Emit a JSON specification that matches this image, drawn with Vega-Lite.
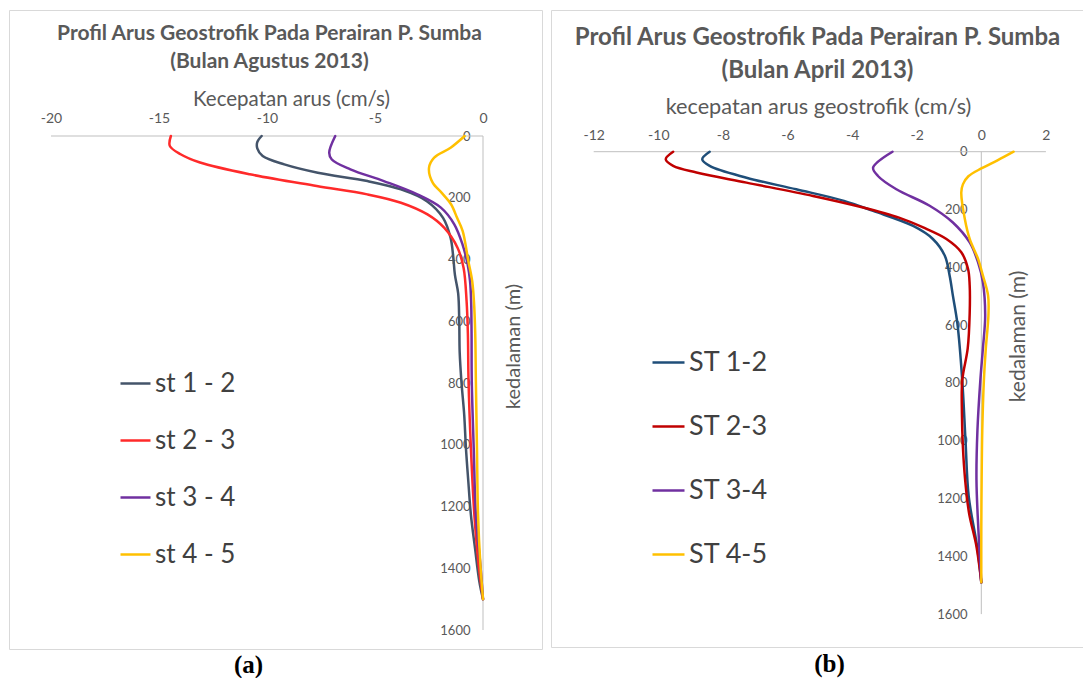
{
  "$schema": "https://vega.github.io/schema/vega-lite/v6.json",
  "background": "white",
  "padding": {"left": 8, "top": 9, "right": 0, "bottom": 0},
  "spacing": 7,
  "config": {
    "locale": {"number": {"decimal": ".", "thousands": "", "grouping": [3], "currency": ["", ""], "minus": "-"}},
    "view": {"stroke": "#D9D9D9", "strokeWidth": 1},
    "font": "Lato",
    "title": {"font": "Lato", "fontWeight": "bold", "color": "#595959", "anchor": "middle", "frame": "group"},
    "axis": {"labelFont": "Lato", "titleFont": "Lato", "labelColor": "#595959", "titleColor": "#595959", "titleFontWeight": "normal", "grid": false, "ticks": false, "domain": false, "labelOverlap": false, "labelFlush": false},
    "legend": {"labelFont": "Lato", "labelColor": "#404040", "padding": 0}
  },
  "datasets": {
    "agustus": [
      {"stasiun": "st 1 - 2", "kedalaman": 0, "kecepatan": -10.25},
      {"stasiun": "st 1 - 2", "kedalaman": 20, "kecepatan": -10.45},
      {"stasiun": "st 1 - 2", "kedalaman": 40, "kecepatan": -10.45},
      {"stasiun": "st 1 - 2", "kedalaman": 65, "kecepatan": -10.2},
      {"stasiun": "st 1 - 2", "kedalaman": 92, "kecepatan": -9.2},
      {"stasiun": "st 1 - 2", "kedalaman": 119, "kecepatan": -7.65},
      {"stasiun": "st 1 - 2", "kedalaman": 146, "kecepatan": -5.35},
      {"stasiun": "st 1 - 2", "kedalaman": 173, "kecepatan": -3.8},
      {"stasiun": "st 1 - 2", "kedalaman": 211, "kecepatan": -2.6},
      {"stasiun": "st 1 - 2", "kedalaman": 265, "kecepatan": -1.85},
      {"stasiun": "st 1 - 2", "kedalaman": 330, "kecepatan": -1.5},
      {"stasiun": "st 1 - 2", "kedalaman": 390, "kecepatan": -1.38},
      {"stasiun": "st 1 - 2", "kedalaman": 450, "kecepatan": -1.3},
      {"stasiun": "st 1 - 2", "kedalaman": 510, "kecepatan": -1.15},
      {"stasiun": "st 1 - 2", "kedalaman": 600, "kecepatan": -1.1},
      {"stasiun": "st 1 - 2", "kedalaman": 700, "kecepatan": -1.08},
      {"stasiun": "st 1 - 2", "kedalaman": 795, "kecepatan": -1.0},
      {"stasiun": "st 1 - 2", "kedalaman": 903, "kecepatan": -0.87},
      {"stasiun": "st 1 - 2", "kedalaman": 1011, "kecepatan": -0.79},
      {"stasiun": "st 1 - 2", "kedalaman": 1119, "kecepatan": -0.68},
      {"stasiun": "st 1 - 2", "kedalaman": 1227, "kecepatan": -0.56},
      {"stasiun": "st 1 - 2", "kedalaman": 1335, "kecepatan": -0.37},
      {"stasiun": "st 1 - 2", "kedalaman": 1443, "kecepatan": -0.17},
      {"stasiun": "st 1 - 2", "kedalaman": 1500, "kecepatan": 0},
      {"stasiun": "st 2 - 3", "kedalaman": 0, "kecepatan": -14.45},
      {"stasiun": "st 2 - 3", "kedalaman": 32, "kecepatan": -14.5},
      {"stasiun": "st 2 - 3", "kedalaman": 59, "kecepatan": -14.0},
      {"stasiun": "st 2 - 3", "kedalaman": 86, "kecepatan": -13.1},
      {"stasiun": "st 2 - 3", "kedalaman": 124, "kecepatan": -10.8},
      {"stasiun": "st 2 - 3", "kedalaman": 162, "kecepatan": -7.7},
      {"stasiun": "st 2 - 3", "kedalaman": 189, "kecepatan": -5.36},
      {"stasiun": "st 2 - 3", "kedalaman": 216, "kecepatan": -3.8},
      {"stasiun": "st 2 - 3", "kedalaman": 254, "kecepatan": -2.57},
      {"stasiun": "st 2 - 3", "kedalaman": 297, "kecepatan": -1.8},
      {"stasiun": "st 2 - 3", "kedalaman": 362, "kecepatan": -1.18},
      {"stasiun": "st 2 - 3", "kedalaman": 427, "kecepatan": -0.9},
      {"stasiun": "st 2 - 3", "kedalaman": 535, "kecepatan": -0.76},
      {"stasiun": "st 2 - 3", "kedalaman": 640, "kecepatan": -0.7},
      {"stasiun": "st 2 - 3", "kedalaman": 795, "kecepatan": -0.67},
      {"stasiun": "st 2 - 3", "kedalaman": 1011, "kecepatan": -0.56},
      {"stasiun": "st 2 - 3", "kedalaman": 1227, "kecepatan": -0.4},
      {"stasiun": "st 2 - 3", "kedalaman": 1390, "kecepatan": -0.2},
      {"stasiun": "st 2 - 3", "kedalaman": 1500, "kecepatan": 0},
      {"stasiun": "st 3 - 4", "kedalaman": 0, "kecepatan": -6.84},
      {"stasiun": "st 3 - 4", "kedalaman": 54, "kecepatan": -7.12},
      {"stasiun": "st 3 - 4", "kedalaman": 76, "kecepatan": -7.0},
      {"stasiun": "st 3 - 4", "kedalaman": 108, "kecepatan": -6.14},
      {"stasiun": "st 3 - 4", "kedalaman": 146, "kecepatan": -4.59},
      {"stasiun": "st 3 - 4", "kedalaman": 189, "kecepatan": -3.04},
      {"stasiun": "st 3 - 4", "kedalaman": 232, "kecepatan": -1.95},
      {"stasiun": "st 3 - 4", "kedalaman": 286, "kecepatan": -1.33},
      {"stasiun": "st 3 - 4", "kedalaman": 351, "kecepatan": -0.95},
      {"stasiun": "st 3 - 4", "kedalaman": 416, "kecepatan": -0.71},
      {"stasiun": "st 3 - 4", "kedalaman": 470, "kecepatan": -0.6},
      {"stasiun": "st 3 - 4", "kedalaman": 535, "kecepatan": -0.55},
      {"stasiun": "st 3 - 4", "kedalaman": 640, "kecepatan": -0.53},
      {"stasiun": "st 3 - 4", "kedalaman": 795, "kecepatan": -0.52},
      {"stasiun": "st 3 - 4", "kedalaman": 1011, "kecepatan": -0.43},
      {"stasiun": "st 3 - 4", "kedalaman": 1227, "kecepatan": -0.33},
      {"stasiun": "st 3 - 4", "kedalaman": 1390, "kecepatan": -0.12},
      {"stasiun": "st 3 - 4", "kedalaman": 1500, "kecepatan": 0},
      {"stasiun": "st 4 - 5", "kedalaman": 0, "kecepatan": -0.85},
      {"stasiun": "st 4 - 5", "kedalaman": 38, "kecepatan": -1.5},
      {"stasiun": "st 4 - 5", "kedalaman": 70, "kecepatan": -2.26},
      {"stasiun": "st 4 - 5", "kedalaman": 103, "kecepatan": -2.5},
      {"stasiun": "st 4 - 5", "kedalaman": 151, "kecepatan": -2.33},
      {"stasiun": "st 4 - 5", "kedalaman": 185, "kecepatan": -1.9},
      {"stasiun": "st 4 - 5", "kedalaman": 221, "kecepatan": -1.48},
      {"stasiun": "st 4 - 5", "kedalaman": 265, "kecepatan": -1.2},
      {"stasiun": "st 4 - 5", "kedalaman": 308, "kecepatan": -0.94},
      {"stasiun": "st 4 - 5", "kedalaman": 405, "kecepatan": -0.68},
      {"stasiun": "st 4 - 5", "kedalaman": 470, "kecepatan": -0.5},
      {"stasiun": "st 4 - 5", "kedalaman": 535, "kecepatan": -0.42},
      {"stasiun": "st 4 - 5", "kedalaman": 640, "kecepatan": -0.36},
      {"stasiun": "st 4 - 5", "kedalaman": 795, "kecepatan": -0.33},
      {"stasiun": "st 4 - 5", "kedalaman": 1011, "kecepatan": -0.28},
      {"stasiun": "st 4 - 5", "kedalaman": 1227, "kecepatan": -0.23},
      {"stasiun": "st 4 - 5", "kedalaman": 1390, "kecepatan": -0.12},
      {"stasiun": "st 4 - 5", "kedalaman": 1500, "kecepatan": 0}
    ],
    "april": [
      {"stasiun": "ST 1-2", "kedalaman": 0, "kecepatan": -8.41},
      {"stasiun": "ST 1-2", "kedalaman": 26, "kecepatan": -8.64},
      {"stasiun": "ST 1-2", "kedalaman": 49, "kecepatan": -8.41},
      {"stasiun": "ST 1-2", "kedalaman": 90, "kecepatan": -7.27},
      {"stasiun": "ST 1-2", "kedalaman": 130, "kecepatan": -5.73},
      {"stasiun": "ST 1-2", "kedalaman": 170, "kecepatan": -4.25},
      {"stasiun": "ST 1-2", "kedalaman": 205, "kecepatan": -3.35},
      {"stasiun": "ST 1-2", "kedalaman": 257, "kecepatan": -2.11},
      {"stasiun": "ST 1-2", "kedalaman": 302, "kecepatan": -1.5},
      {"stasiun": "ST 1-2", "kedalaman": 360, "kecepatan": -1.13},
      {"stasiun": "ST 1-2", "kedalaman": 429, "kecepatan": -0.98},
      {"stasiun": "ST 1-2", "kedalaman": 498, "kecepatan": -0.88},
      {"stasiun": "ST 1-2", "kedalaman": 595, "kecepatan": -0.74},
      {"stasiun": "ST 1-2", "kedalaman": 791, "kecepatan": -0.59},
      {"stasiun": "ST 1-2", "kedalaman": 998, "kecepatan": -0.49},
      {"stasiun": "ST 1-2", "kedalaman": 1193, "kecepatan": -0.39},
      {"stasiun": "ST 1-2", "kedalaman": 1366, "kecepatan": -0.13},
      {"stasiun": "ST 1-2", "kedalaman": 1490, "kecepatan": 0},
      {"stasiun": "ST 2-3", "kedalaman": 0, "kecepatan": -9.54},
      {"stasiun": "ST 2-3", "kedalaman": 26, "kecepatan": -9.77},
      {"stasiun": "ST 2-3", "kedalaman": 49, "kecepatan": -9.54},
      {"stasiun": "ST 2-3", "kedalaman": 72, "kecepatan": -8.82},
      {"stasiun": "ST 2-3", "kedalaman": 107, "kecepatan": -7.27},
      {"stasiun": "ST 2-3", "kedalaman": 153, "kecepatan": -5.21},
      {"stasiun": "ST 2-3", "kedalaman": 193, "kecepatan": -3.66},
      {"stasiun": "ST 2-3", "kedalaman": 228, "kecepatan": -2.55},
      {"stasiun": "ST 2-3", "kedalaman": 262, "kecepatan": -1.8},
      {"stasiun": "ST 2-3", "kedalaman": 302, "kecepatan": -1.08},
      {"stasiun": "ST 2-3", "kedalaman": 348, "kecepatan": -0.62},
      {"stasiun": "ST 2-3", "kedalaman": 406, "kecepatan": -0.41},
      {"stasiun": "ST 2-3", "kedalaman": 463, "kecepatan": -0.36},
      {"stasiun": "ST 2-3", "kedalaman": 560, "kecepatan": -0.36},
      {"stasiun": "ST 2-3", "kedalaman": 680, "kecepatan": -0.42},
      {"stasiun": "ST 2-3", "kedalaman": 791, "kecepatan": -0.59},
      {"stasiun": "ST 2-3", "kedalaman": 906, "kecepatan": -0.6},
      {"stasiun": "ST 2-3", "kedalaman": 1021, "kecepatan": -0.57},
      {"stasiun": "ST 2-3", "kedalaman": 1136, "kecepatan": -0.5},
      {"stasiun": "ST 2-3", "kedalaman": 1250, "kecepatan": -0.38},
      {"stasiun": "ST 2-3", "kedalaman": 1366, "kecepatan": -0.15},
      {"stasiun": "ST 2-3", "kedalaman": 1490, "kecepatan": 0},
      {"stasiun": "ST 3-4", "kedalaman": 0, "kecepatan": -2.75},
      {"stasiun": "ST 3-4", "kedalaman": 55, "kecepatan": -3.35},
      {"stasiun": "ST 3-4", "kedalaman": 84, "kecepatan": -3.2},
      {"stasiun": "ST 3-4", "kedalaman": 130, "kecepatan": -2.63},
      {"stasiun": "ST 3-4", "kedalaman": 187, "kecepatan": -1.6},
      {"stasiun": "ST 3-4", "kedalaman": 245, "kecepatan": -0.88},
      {"stasiun": "ST 3-4", "kedalaman": 314, "kecepatan": -0.36},
      {"stasiun": "ST 3-4", "kedalaman": 383, "kecepatan": -0.1},
      {"stasiun": "ST 3-4", "kedalaman": 452, "kecepatan": 0.05},
      {"stasiun": "ST 3-4", "kedalaman": 567, "kecepatan": 0.12},
      {"stasiun": "ST 3-4", "kedalaman": 680, "kecepatan": 0.05},
      {"stasiun": "ST 3-4", "kedalaman": 791, "kecepatan": -0.03},
      {"stasiun": "ST 3-4", "kedalaman": 964, "kecepatan": -0.12},
      {"stasiun": "ST 3-4", "kedalaman": 1136, "kecepatan": -0.15},
      {"stasiun": "ST 3-4", "kedalaman": 1309, "kecepatan": -0.09},
      {"stasiun": "ST 3-4", "kedalaman": 1490, "kecepatan": 0},
      {"stasiun": "ST 4-5", "kedalaman": 0, "kecepatan": 1.0},
      {"stasiun": "ST 4-5", "kedalaman": 30, "kecepatan": 0.5},
      {"stasiun": "ST 4-5", "kedalaman": 58, "kecepatan": 0.0},
      {"stasiun": "ST 4-5", "kedalaman": 85, "kecepatan": -0.4},
      {"stasiun": "ST 4-5", "kedalaman": 113, "kecepatan": -0.57},
      {"stasiun": "ST 4-5", "kedalaman": 141, "kecepatan": -0.62},
      {"stasiun": "ST 4-5", "kedalaman": 233, "kecepatan": -0.51},
      {"stasiun": "ST 4-5", "kedalaman": 302, "kecepatan": -0.36},
      {"stasiun": "ST 4-5", "kedalaman": 371, "kecepatan": -0.1},
      {"stasiun": "ST 4-5", "kedalaman": 429, "kecepatan": 0.05},
      {"stasiun": "ST 4-5", "kedalaman": 498, "kecepatan": 0.21},
      {"stasiun": "ST 4-5", "kedalaman": 567, "kecepatan": 0.22},
      {"stasiun": "ST 4-5", "kedalaman": 680, "kecepatan": 0.14},
      {"stasiun": "ST 4-5", "kedalaman": 791, "kecepatan": 0.08},
      {"stasiun": "ST 4-5", "kedalaman": 964, "kecepatan": 0.03},
      {"stasiun": "ST 4-5", "kedalaman": 1136, "kecepatan": 0.01},
      {"stasiun": "ST 4-5", "kedalaman": 1300, "kecepatan": 0},
      {"stasiun": "ST 4-5", "kedalaman": 1490, "kecepatan": 0}
    ]
  },
  "hconcat": [
    {
      "width": 533,
      "height": 639,
      "title": {
        "text": ["Profil Arus Geostrofik Pada Perairan P. Sumba", "(Bulan Agustus 2013)"],
        "fontSize": 21,
        "lineHeight": 28,
        "offset": -62,
        "dx": -6
      },
      "layer": [
        {
          "data": {"values": [{}]},
          "mark": {"type": "rule", "color": "#BFBFBF", "strokeWidth": 1},
          "encoding": {
            "x": {"datum": -20, "type": "quantitative", "axis": null},
            "x2": {"datum": 0},
            "y": {"datum": 0, "type": "quantitative",
              "axis": {"orient": "right", "offset": -59, "values": [0, 200, 400, 600, 800, 1000, 1200, 1400, 1600], "format": "d", "labelFontSize": 13, "labelAlign": "right", "labelBaseline": "middle", "labelPadding": -13,
                "title": "kedalaman (m)", "titleFontSize": 20, "titleAngle": 270, "titleX": 30, "titleY": 336, "titleBaseline": "middle", "titleAlign": "center"}}
          }
        },
        {
          "data": {"values": [{}]},
          "mark": {"type": "rule", "color": "#BFBFBF", "strokeWidth": 1},
          "encoding": {
            "x": {"datum": 0, "type": "quantitative",
              "axis": {"orient": "bottom", "labels": false, "title": "(a)", "titleFont": "Liberation Serif", "titleFontWeight": "bold", "titleFontSize": 25, "titleColor": "#000000", "titleX": 239, "titleY": 15, "titleBaseline": "middle", "titleAlign": "center"}},
            "y": {"datum": 0, "type": "quantitative"},
            "y2": {"datum": 1600}
          }
        },
        {
          "data": {"name": "agustus"},
          "mark": {"type": "line", "interpolate": "catmull-rom", "strokeWidth": 2.5, "strokeCap": "round", "clip": true},
          "encoding": {
            "x": {"field": "kecepatan", "type": "quantitative",
              "scale": {"domain": [-21.944, 2.731], "nice": false, "zero": false},
              "axis": {"orient": "top", "offset": -126, "values": [-20, -15, -10, -5, 0], "format": "d", "labelFontSize": 14, "labelPadding": 11,
                "title": "Kecepatan arus (cm/s)", "titleFontSize": 20.5, "titleX": 282, "titleY": -37, "titleBaseline": "middle", "titleAlign": "center"}},
            "y": {"field": "kedalaman", "type": "quantitative",
              "scale": {"domain": [-408.1, 1661.5], "nice": false, "zero": false, "reverse": true}},
            "color": {"field": "stasiun", "type": "nominal",
              "scale": {"domain": ["st 1 - 2", "st 2 - 3", "st 3 - 4", "st 4 - 5"], "range": ["#44546A", "#FF2A2A", "#7030A0", "#FFC000"]},
              "legend": {"orient": "none", "legendX": 110, "legendY": 357, "title": null, "symbolType": "stroke", "symbolSize": 900, "symbolStrokeWidth": 2.5, "labelFontSize": 26, "rowPadding": 27, "labelOffset": 3}},
            "order": {"field": "kedalaman", "type": "quantitative"}
          }
        }
      ]
    },
    {
      "width": 537,
      "height": 637,
      "title": {
        "text": ["Profil Arus Geostrofik Pada Perairan P. Sumba", "(Bulan April 2013)"],
        "fontSize": 24,
        "lineHeight": 33,
        "offset": -73,
        "dx": -2
      },
      "layer": [
        {
          "data": {"values": [{}]},
          "mark": {"type": "rule", "color": "#BFBFBF", "strokeWidth": 1},
          "encoding": {
            "x": {"datum": -12, "type": "quantitative", "axis": null},
            "x2": {"datum": 2},
            "y": {"datum": 0, "type": "quantitative",
              "axis": {"orient": "right", "offset": -107, "values": [0, 200, 400, 600, 800, 1000, 1200, 1400, 1600], "format": "d", "labelFontSize": 13, "labelAlign": "right", "labelBaseline": "middle", "labelPadding": -14,
                "title": "kedalaman (m)", "titleFontSize": 21, "titleAngle": 270, "titleX": 37, "titleY": 326, "titleBaseline": "middle", "titleAlign": "center"}}
          }
        },
        {
          "data": {"values": [{}]},
          "mark": {"type": "rule", "color": "#BFBFBF", "strokeWidth": 1},
          "encoding": {
            "x": {"datum": 0, "type": "quantitative",
              "axis": {"orient": "bottom", "labels": false, "title": "(b)", "titleFont": "Liberation Serif", "titleFontWeight": "bold", "titleFontSize": 25, "titleColor": "#000000", "titleX": 278, "titleY": 16, "titleBaseline": "middle", "titleAlign": "center"}},
            "y": {"datum": 0, "type": "quantitative"},
            "y2": {"datum": 1600}
          }
        },
        {
          "data": {"name": "april"},
          "mark": {"type": "line", "interpolate": "catmull-rom", "strokeWidth": 2.5, "strokeCap": "round", "clip": true},
          "encoding": {
            "x": {"field": "kecepatan", "type": "quantitative",
              "scale": {"domain": [-13.322, 3.303], "nice": false, "zero": false},
              "axis": {"orient": "top", "offset": -142, "values": [-12, -10, -8, -6, -4, -2, 0, 2], "format": "d", "labelFontSize": 14, "labelPadding": 10,
                "title": "kecepatan arus geostrofik (cm/s)", "titleFontSize": 21.7, "titleX": 267, "titleY": -46, "titleBaseline": "middle", "titleAlign": "center"}},
            "y": {"field": "kedalaman", "type": "quantitative",
              "scale": {"domain": [-490.3, 1713.8], "nice": false, "zero": false, "reverse": true}},
            "color": {"field": "stasiun", "type": "nominal",
              "scale": {"domain": ["ST 1-2", "ST 2-3", "ST 3-4", "ST 4-5"], "range": ["#1F4E79", "#C00000", "#7030A0", "#FFC000"]},
              "legend": {"orient": "none", "legendX": 100, "legendY": 335, "title": null, "symbolType": "stroke", "symbolSize": 1024, "symbolStrokeWidth": 2.5, "labelFontSize": 27, "rowPadding": 33, "labelOffset": 3}},
            "order": {"field": "kedalaman", "type": "quantitative"}
          }
        }
      ]
    }
  ],
  "resolve": {"scale": {"x": "independent", "y": "independent", "color": "independent"}}
}
